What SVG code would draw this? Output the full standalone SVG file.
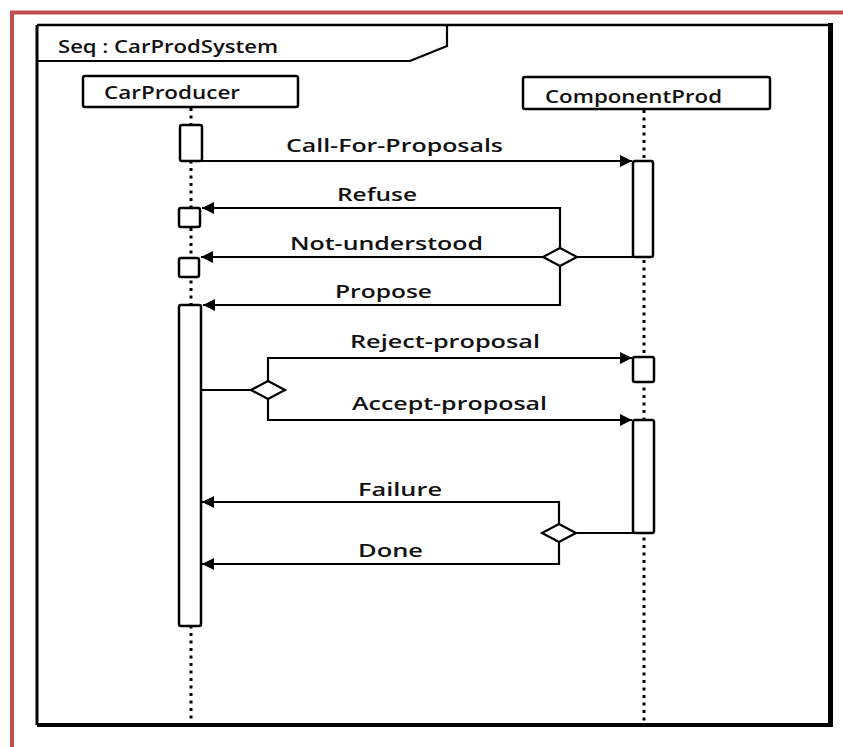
<svg xmlns="http://www.w3.org/2000/svg" width="843" height="747" viewBox="0 0 843 747">
  <defs>
    <marker id="arrow" viewBox="0 0 12 12" refX="12" refY="6" markerWidth="12" markerHeight="12" markerUnits="userSpaceOnUse" orient="auto">
      <path d="M0,0 L12,6 L0,12 Z" fill="#000"/>
    </marker>
    <style>
      .lbl { font-family: "Open Sans", "DejaVu Sans", sans-serif; font-weight: 600; font-size: 18px; fill: #111; }
      .box { fill: #fff; stroke: #000; stroke-width: 2.5; }
      .act { fill: #fff; stroke: #000; stroke-width: 2.5; }
      .life { stroke: #000; stroke-width: 3; stroke-dasharray: 3 4.5; fill: none; }
      .msg { stroke: #000; stroke-width: 2.2; fill: none; }
      .dia { fill: #fff; stroke: #000; stroke-width: 2.2; }
    </style>
  </defs>

  <rect width="843" height="747" fill="#fff"/>

  <!-- outer red border (top and left edges) -->
  <line x1="10" y1="12.5" x2="843" y2="12.5" stroke="#c0504d" stroke-width="4"/>
  <line x1="12" y1="11" x2="12" y2="747" stroke="#c0504d" stroke-width="4"/>

  <!-- sequence frame -->
  <g id="frame">
    <path d="M37,25 L830,25" stroke="#000" stroke-width="2.5" fill="none"/>
    <path d="M37,25 L37,725" stroke="#000" stroke-width="3" fill="none"/>
    <path d="M37,725 L833,725" stroke="#000" stroke-width="4" fill="none"/>
    <path d="M830.5,23 L830.5,727" stroke="#000" stroke-width="5" fill="none"/>
    <path d="M37,61 L410,61 L447,46 L447,25" stroke="#000" stroke-width="2.2" fill="none"/>
    <text class="lbl" x="58" y="53" textLength="220" lengthAdjust="spacingAndGlyphs">Seq : CarProdSystem</text>
  </g>

  <!-- lifelines -->
  <g id="lifelines">
    <line class="life" x1="191" y1="108" x2="191" y2="724"/>
    <line class="life" x1="644" y1="110" x2="644" y2="724"/>
  </g>

  <!-- CarProducer participant -->
  <g id="car-producer">
    <rect class="box" x="83" y="76" width="215" height="31" rx="2"/>
    <text class="lbl" x="104" y="99" textLength="136" lengthAdjust="spacingAndGlyphs">CarProducer</text>
  </g>

  <!-- ComponentProd participant -->
  <g id="component-prod">
    <rect class="box" x="523" y="77" width="247" height="32" rx="2"/>
    <text class="lbl" x="545" y="103" textLength="177" lengthAdjust="spacingAndGlyphs">ComponentProd</text>
  </g>

  <!-- activation bars -->
  <g id="activations">
    <rect class="act" x="180" y="125" width="22" height="36" rx="2"/>
    <rect class="act" x="179" y="208" width="21" height="19" rx="2"/>
    <rect class="act" x="179" y="258" width="20" height="19" rx="2"/>
    <rect class="act" x="179" y="305" width="22" height="321" rx="2"/>
    <rect class="act" x="633" y="161" width="20" height="96" rx="2"/>
    <rect class="act" x="633" y="357" width="21" height="25" rx="2"/>
    <rect class="act" x="633" y="420" width="21" height="113" rx="2"/>
  </g>

  <!-- messages -->
  <g id="connectors">
    <!-- call for proposals -->
    <line class="msg" x1="202" y1="161" x2="632" y2="161" marker-end="url(#arrow)"/>
    <!-- reply alternatives -->
    <path class="msg" d="M633,257 L577,257"/>
    <path class="msg" d="M560,248 L560,208 L202,208" marker-end="url(#arrow)"/>
    <path class="msg" d="M543,257 L201,257" marker-end="url(#arrow)"/>
    <path class="msg" d="M560,266 L560,305 L203,305" marker-end="url(#arrow)"/>
    <polygon class="dia" points="560,248 577,257 560,266 543,257"/>
    <!-- proposal decision -->
    <path class="msg" d="M201,390 L252,390"/>
    <path class="msg" d="M268,381 L268,358 L632,358" marker-end="url(#arrow)"/>
    <path class="msg" d="M268,399 L268,420 L632,420" marker-end="url(#arrow)"/>
    <polygon class="dia" points="268,381 285,390 268,399 251,390"/>
    <!-- outcome -->
    <path class="msg" d="M633,533 L576,533"/>
    <path class="msg" d="M559,524 L559,502 L202,502" marker-end="url(#arrow)"/>
    <path class="msg" d="M559,542 L559,564 L202,564" marker-end="url(#arrow)"/>
    <polygon class="dia" points="559,524 576,533 559,542 542,533"/>
  </g>

  <!-- message labels -->
  <g id="labels">
    <text class="lbl" x="286" y="152" textLength="217" lengthAdjust="spacingAndGlyphs">Call-For-Proposals</text>
    <text class="lbl" x="337" y="201" textLength="80" lengthAdjust="spacingAndGlyphs">Refuse</text>
    <text class="lbl" x="290" y="250" textLength="193" lengthAdjust="spacingAndGlyphs">Not-understood</text>
    <text class="lbl" x="335" y="298" textLength="97" lengthAdjust="spacingAndGlyphs">Propose</text>
    <text class="lbl" x="350" y="348" textLength="190" lengthAdjust="spacingAndGlyphs">Reject-proposal</text>
    <text class="lbl" x="352" y="410" textLength="195" lengthAdjust="spacingAndGlyphs">Accept-proposal</text>
    <text class="lbl" x="358" y="496" textLength="84" lengthAdjust="spacingAndGlyphs">Failure</text>
    <text class="lbl" x="358" y="557" textLength="65" lengthAdjust="spacingAndGlyphs">Done</text>
  </g>
</svg>
